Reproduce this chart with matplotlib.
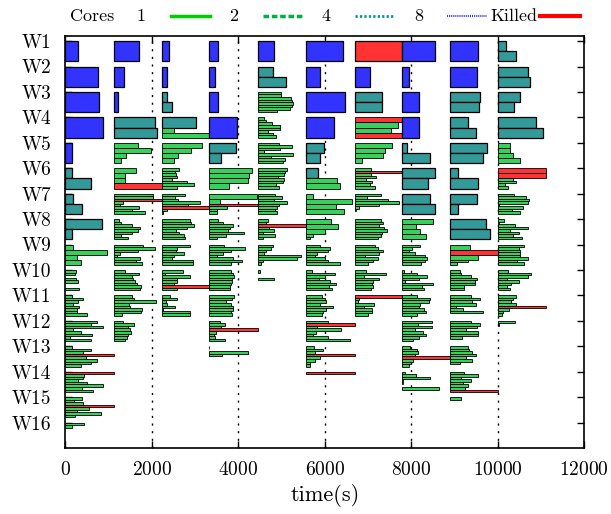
import matplotlib
matplotlib.use('Agg')
import matplotlib.pyplot as plt
from matplotlib.lines import Line2D

plt.rcParams['font.family'] = 'cmr10'
plt.rcParams['axes.formatter.use_mathtext'] = True

# start time (s) of each scheduling wave
wave_start = [0, 1120, 2230, 3320, 4450, 5570, 6700, 7790, 8900, 10010]
run_end = 11110           # killed jobs of the last wave stop here
K = -1                    # marks a killed job (runs until the next wave)

workers = ['W%d' % (i + 1) for i in range(16)]

# per wave, per worker: stacked jobs (cores, duration s), slot 0 on top
wave0 = [
    [(8, 300)], [(8, 745)], [(8, 780)], [(8, 860)], [(8, 150)],
    [(4, 150), (4, 580)],
    [(4, 170), (4, 380)],
    [(4, 840), (4, 150)],
    [(2, 180), (2, 960), (2, 270), (2, 350)],
    [(1, 250), (1, 230), (1, 0), (1, 250), (1, 280), (1, 0), (1, 0), (1, 320)],
    [(1, 140), (1, 400), (1, 295), (1, 180), (1, 310), (1, 260), (1, 275), (1, 505)],
    [(1, 735), (1, 580), (1, 860), (1, 180), (1, 350), (1, 605), (1, 105), (1, 580)],
    [(1, 140), (1, 580), (1, 410), (1, K), (1, 475), (1, 720), (1, 580), (1, 350)],
    [(1, K), (1, 430), (1, 400), (1, 295), (1, 490), (1, 875), (1, 375), (1, 645)],
    [(1, 375), (1, 195), (1, 400), (1, K), (1, 550), (1, 275), (1, 815), (1, 220)],
    [(1, 435), (1, 145)],
]
wave1 = [
    [(8, 580)], [(8, 230)], [(8, 100)],
    [(4, 960), (4, 1000)],
    [(2, 550), (2, 850), (2, 280), (2, 160)],
    [(2, 515), (2, 255), (2, 255), (2, K)],
    [(1, 900), (1, 900), (1, K), (1, 210), (1, 140), (1, 580), (1, 410), (1, 720)],
    [(1, 120), (1, 160), (1, 410), (1, 600), (1, 550), (1, 410), (1, 160), (1, 330)],
    [(1, 680), (1, 960), (1, 550), (1, 140), (1, 80), (1, 600), (1, 510), (1, 660)],
    [(1, 255), (1, 580), (1, 410), (1, 450), (1, 485), (1, 525), (1, 625), (1, 600)],
    [(1, 410), (1, 460), (1, 970), (1, 355), (1, 370), (1, 640), (1, 625), (1, 180)],
    [(1, 200), (1, 455), (1, 330), (1, 370), (1, 385), (1, 330), (1, 295), (1, 255)],
    [], [], [], [],
]
wave2 = [
    [(8, 175)], [(8, 115)],
    [(4, 115), (4, 245)],
    [(4, 780), (2, 290), (2, 1080)],
    [(2, 925), (2, 670), (2, 385), (2, 270)],
    [(1, 405), (1, 300), (1, 330), (1, 345), (1, 230), (1, 580), (1, 745), (1, 345)],
    [(1, 540), (1, 310), (1, 385), (1, 885), (1, 615), (1, K), (1, 115), (1, 30)],
    [(1, 640), (1, 670), (1, 755), (1, 580), (1, 330), (1, 400), (1, 515), (1, 540)],
    [(1, 640), (1, 345), (1, 330), (1, 515), (1, 270), (1, 230), (1, 730), (1, 730)],
    [(1, 490), (1, 80), (1, 640), (1, 345), (1, 360), (1, 270), (1, K), (1, 345)],
    [(1, 190), (1, 345), (1, 100), (1, 115), (1, 310), (1, 20), (1, 650), (1, 650)],
    [], [], [], [], [],
]
wave3 = [
    [(8, 210)], [(8, 130)], [(8, 210)], [(8, 650)],
    [(4, 620), (4, 270)],
    [(2, 1000), (2, 920), (2, 900), (2, 465)],
    [(2, 1110), (2, 260), (1, K), (1, 425), (1, 195), (1, 190)],
    [(1, 215), (1, 325), (1, 555), (1, 480), (1, 440), (1, 810), (1, 400), (1, 185)],
    [(1, 340), (1, 825), (1, 515), (1, 325), (1, 185), (1, 555), (1, 770), (1, 515)],
    [(1, 510), (1, 555), (1, 590), (1, 530), (1, 540), (1, 520), (1, 495), (1, 485)],
    [(1, 570), (1, 530), (1, 400), (1, 520), (1, 560), (1, 550), (1, 500), (1, 525)],
    [(1, 250), (1, 365), (1, 285), (1, K), (1, 170), (1, 110), (1, 130), (1, 380)],
    [(1, 10), (1, 0), (1, 900), (1, 310)],
    [], [], [],
]
wave4 = [
    [(8, 370)],
    [(4, 345), (4, 655)],
    [(1, 540), (1, 540), (1, 760), (1, 800), (1, 815), (1, 800), (1, 740), (1, 445)],
    [(1, 155), (1, 200), (1, 330), (1, 525), (1, 510), (1, 230), (1, 345), (1, 425)],
    [(1, 480), (1, 785), (1, 515), (1, 140), (1, 810), (1, 295), (1, 625), (1, 595)],
    [(1, 680), (1, 640), (1, 600), (1, 465), (1, 600), (1, 585), (1, 430), (1, 480)],
    [(1, 410), (1, 565), (1, 370), (1, 680), (1, 485), (1, 445), (1, 410), (1, 445)],
    [(1, 230), (1, 200), (1, K), (1, 255), (1, 370), (1, 125), (1, 410), (1, 125)],
    [(1, 355), (1, 295), (1, 180), (1, 140), (1, 990), (1, 910), (1, 120), (1, 80)],
    [(1, 60), (1, 0), (1, 0), (1, 370)],
    [], [], [], [], [], [],
]
wave5 = [
    [(8, 845)], [(8, 310)], [(8, 895)], [(8, 640)],
    [(4, 405), (4, 315)],
    [(4, 275), (2, 715), (2, 780)],
    [(2, 160), (2, 1065), (2, 680), (2, 870)],
    [(2, 585), (2, 730), (2, 425), (1, 160), (1, 80)],
    [(1, 330), (1, 560), (1, 500), (1, 255), (1, 200), (1, 445), (1, 500), (1, 780)],
    [(1, 140), (1, 660), (1, 445), (1, 290), (1, 560), (1, 685), (1, 520), (1, 600)],
    [(1, 370), (1, 445), (1, 470), (1, 330), (1, 625), (1, 470), (1, 395), (1, 370)],
    [(1, 500), (1, K), (1, 255), (1, 810), (1, 230), (1, 150), (1, 500), (1, 1025)],
    [(1, 175), (1, 395), (1, 215), (1, K), (1, 330), (1, 215), (1, 100), (1, 85)],
    [(1, K)],
    [], [],
]
wave6 = [
    [(8, K)], [(8, 355)],
    [(4, 625), (4, 625)],
    [(2, K), (2, 985), (2, 830), (2, K)],
    [(2, 850), (2, 700), (2, 640), (2, 160)],
    [(1, 370), (1, K), (1, 370), (1, 480), (1, 260), (1, 390), (1, 355), (1, 470)],
    [(1, 600), (1, 280), (1, 755), (1, 1010), (1, 545), (1, 100), (1, 30)],
    [(1, 600), (1, 640), (1, 560), (1, 665), (1, 740), (1, 625), (1, 600), (1, 540)],
    [(1, 460), (1, 540), (1, 640), (1, 560), (1, 240), (1, 525), (1, 410), (1, 310)],
    [(1, 255), (1, 715), (1, 215), (1, 545), (1, 410), (1, 385), (1, 410), (1, 380)],
    [(1, K), (1, 100), (1, 60), (1, 450), (1, 220), (1, 400), (1, 400), (1, 300)],
    [], [], [], [], [],
]
wave7 = [
    [(8, 755)], [(8, 155)], [(8, 385)], [(8, 385)],
    [(4, 115), (4, 640)],
    [(4, 755), (4, 600)],
    [(4, 655), (4, 770)],
    [(2, 710), (2, 330), (2, 410), (2, 560)],
    [(1, 425), (1, 230), (1, 155), (1, 310), (1, 540), (1, 580), (1, 540), (1, 430)],
    [(1, 40), (1, 345), (1, 580), (1, 385), (1, 75), (1, 715), (1, 460), (1, 500)],
    [(1, 345), (1, 640), (1, 620), (1, 420), (1, 400), (1, 510), (1, 555), (1, 345)],
    [(1, 695), (1, 370), (1, 700), (1, 300), (1, 480), (1, 560), (1, 400), (1, 250)],
    [(1, 175), (1, 345), (1, 360), (1, 300), (1, K), (1, 245), (1, 200), (1, 150)],
    [(1, 75), (1, 330), (1, 655), (1, 10), (1, 10), (1, 0), (1, 845)],
    [], [],
]
wave8 = [
    [(8, 650)], [(8, 630)],
    [(4, 695), (4, 670)],
    [(4, 425), (4, 610)],
    [(4, 865), (4, 770)],
    [(4, 185), (4, 655)],
    [(4, 630), (4, 195)],
    [(4, 840), (4, 920)],
    [(2, 465), (2, K), (2, 650), (1, 425), (1, 170)],
    [(1, 230), (1, 245), (1, 480), (1, 615), (1, 570), (1, 570), (1, 325), (1, 325)],
    [(1, 480), (1, 695), (1, 515), (1, 595), (1, 130), (1, 310), (1, 770)],
    [(1, 480), (1, 695), (1, 615), (1, 360), (1, 650), (1, 650), (1, 270)],
    [(1, 425), (1, 440), (1, 515), (1, 595), (1, 360), (1, 515), (1, 230)],
    [(1, 325), (1, 655), (1, 245), (1, 495), (1, 310), (1, 415), (1, 345), (1, K)],
    [(1, 260)],
    [],
]
wave9 = [
    [(4, 190), (4, 425)],
    [(4, 685), (4, 745)],
    [(4, 500), (4, 360)],
    [(4, 880), (4, 1030)],
    [(2, 270), (2, 285), (2, 340), (2, 500)],
    [(2, K), (2, K), (1, 345), (1, 425), (1, 170), (1, 230)],
    [(1, 360), (1, 655), (1, 710), (1, 695), (1, 20), (1, 570), (1, 325), (1, 500)],
    [(1, 130), (1, 20), (1, 400), (1, 685), (1, 285), (1, 495), (1, 345), (1, 555)],
    [(1, 595), (1, 480), (1, 500), (1, 505), (1, 500), (1, 685), (1, 440), (1, 595)],
    [(1, 230), (1, 765), (1, 685), (1, 210), (1, 480), (1, 300), (1, 210), (1, 285)],
    [(1, 425), (1, 345), (1, 300), (1, 425), (1, K), (1, 245), (1, 115), (1, 100)],
    [(1, 400), (1, 20)],
    [], [], [], [],
]
waves = [wave0, wave1, wave2, wave3, wave4, wave5, wave6, wave7, wave8, wave9]

core_color = {1: '#38d05a', 2: '#38d05a', 4: '#339999', 8: '#3333ff'}
killed_color = '#ff3333'
slot = 0.1   # row height of one core

fig = plt.figure(figsize=(6.11, 5.14), dpi=100)
ax = fig.add_axes([0.1072, 0.1284, 0.8486, 0.8016])

for w, jobs in enumerate(waves):
    t0 = wave_start[w]
    t1 = wave_start[w + 1] if w + 1 < len(wave_start) else run_end
    for i, cell in enumerate(jobs):
        y = i + 1
        for cores, dur in cell:
            lw = 0.6 if cores < 4 else 0.9
            if dur == K:
                ax.barh(y, t1 - t0, height=cores * slot, left=t0, align='edge',
                        color=killed_color, edgecolor='k', linewidth=lw, zorder=3)
            elif dur > 0:
                ax.barh(y, dur, height=cores * slot, left=t0, align='edge',
                        color=core_color[cores], edgecolor='k', linewidth=lw, zorder=3)
            y += cores * slot

for x in range(2000, 12000, 2000):
    ax.axvline(x, color='k', linestyle=(0, (1.5, 4)), linewidth=1.0, zorder=1)

ax.set_xlim(0, 12000)
ax.set_ylim(17.0, 0.8)
ax.set_xticks(range(0, 12001, 2000))
ax.set_yticks(range(1, 17))
ax.set_yticklabels(workers)
ax.tick_params(direction='in', top=True, right=True, length=5, width=1,
               labelsize=14)
ax.tick_params(axis='x', pad=9)
ax.tick_params(axis='y', pad=10)
for s in ax.spines.values():
    s.set_linewidth(1.2)
ax.set_xlabel('time(s)', fontsize=16, labelpad=4)

# legend row above the plot
ly = 1 - 16 / 514.
def fx(px):
    return px / 611.

fig.text(fx(92), ly, 'Cores', ha='center', va='center', fontsize=13)
entries = [('1', 141, 171, 210, '#00cc00', '-', 2.5),
           ('2', 234, 263, 303, '#00b040', (0, (1.6, 0.8)), 2.5),
           ('4', 326, 355, 393, '#009999', (0, (0.8, 0.8)), 2.0),
           ('8', 419, 447, 487, '#3333ff', (0, (0.5, 0.5)), 1.5),
           ('Killed', 514, 540, 580, '#ff0000', '-', 3.0)]
for lab, tx, x0, x1, col, ls, lw in entries:
    fig.text(fx(tx), ly, lab, ha='center', va='center', fontsize=13)
    fig.add_artist(Line2D([fx(x0), fx(x1)], [ly, ly], color=col, linestyle=ls,
                          linewidth=lw, transform=fig.transFigure))

fig.savefig('out.png', dpi=100)
